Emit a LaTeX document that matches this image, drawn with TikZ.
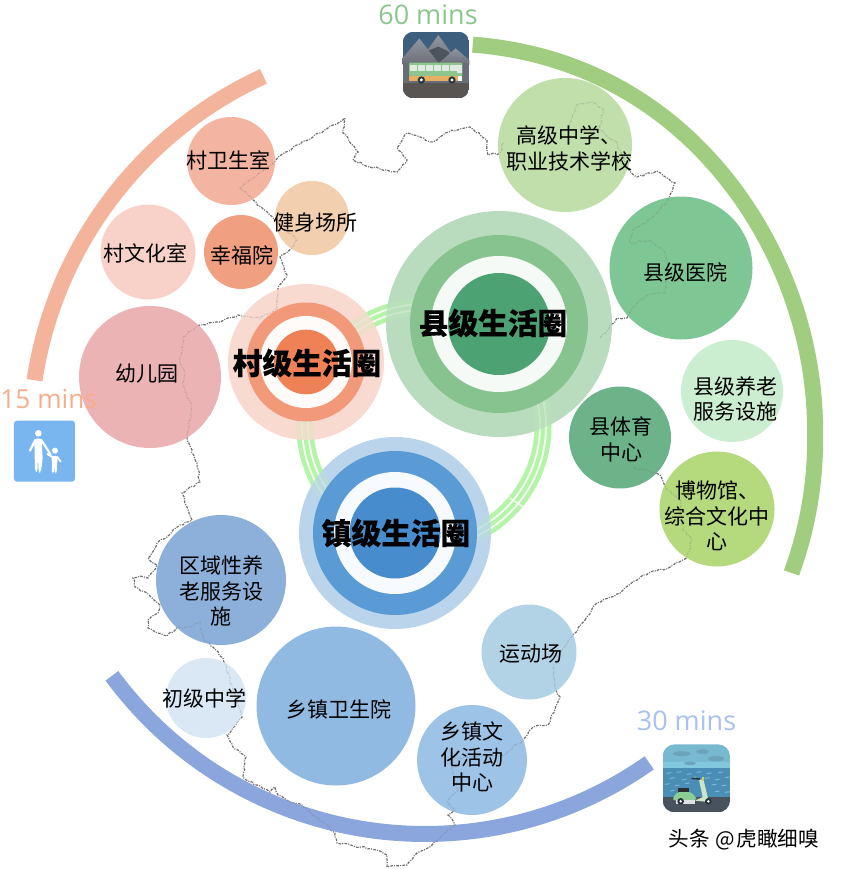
\documentclass[tikz,border=0pt]{standalone}
\usepackage{fontspec}
\setmainfont{Noto Sans CJK SC}
\newfontfamily\headf{Noto Sans CJK SC}[BoldFeatures={FakeBold=0.35}]
\newfontfamily\latinf{Open Sans}
\usetikzlibrary{decorations.pathmorphing}
\definecolor{cOA}{HTML}{F4B49C}\definecolor{cGA}{HTML}{A0CD80}\definecolor{cBA}{HTML}{8AA6DC}
\definecolor{ringg}{HTML}{B5F3A8}
\definecolor{skyb}{HTML}{3E5E7E}\definecolor{mtl}{HTML}{9096A0}\definecolor{mtd}{HTML}{4E545C}\definecolor{mtm}{HTML}{696E76}
\definecolor{grnd}{HTML}{585452}\definecolor{busg}{HTML}{8EC58F}\definecolor{buso}{HTML}{E8AE62}\definecolor{busw}{HTML}{E1EBE1}\definecolor{tyre}{HTML}{28343E}
\definecolor{skyc}{HTML}{77B9CE}\definecolor{skyd}{HTML}{82C8DC}\definecolor{sea}{HTML}{4A8EB6}\definecolor{road}{HTML}{47525C}\definecolor{cloud}{HTML}{6BA3B8}\definecolor{wave}{HTML}{7DB6D6}
\definecolor{scg}{HTML}{8ECC96}\definecolor{scc}{HTML}{CDE4C8}\definecolor{scy}{HTML}{CDCD64}\definecolor{scs}{HTML}{DCE1E1}\definecolor{walk}{HTML}{79B5EF}
\definecolor{mapc}{HTML}{6C6C6C}
\tikzset{
 disc/.style={circle,draw=none,inner sep=0pt,minimum size=2*#1 pt},
 lab/.style={inner sep=0pt,align=center,font=\fontsize{21}{25.4}\selectfont,text=black},
 head/.style={inner sep=0pt,align=center,font=\headf\fontsize{29.7}{30}\selectfont\bfseries,text=black},
 mins/.style={inner sep=0pt,font=\latinf\fontsize{27}{30}\selectfont},
 arcband/.style={line width=16pt,line cap=butt,line join=round},
 mapline/.style={line width=1.1pt,color=mapc,dash pattern=on 2.6pt off 1.2pt on 1pt off 1.3pt,
   decorate,decoration={random steps,segment length=3.5pt,amplitude=1.1pt}},
}
\newcommand\drawmap[1]{%
 \pgfmathsetseed{7}%
 \draw[mapline,#1] (585,620)--(597,603)--(620,593)--(643,575)--(670,567)--(687,558)--(692,540)--(683,530)--(680,500)--(667,490)--(660,475)--(633,467);
 \draw[mapline,#1] (600,338)--(617,318)--(627,318)--(633,307)--(647,295)--(665,293)--(668,263)--(663,250)--(650,240)--(630,243)--(633,230)--(653,217)--(668,200)--(675,183)--(657,171)--(637,177)--(627,167)--(617,143)--(600,130)--(603,108)--(590,102)--(577,105)--(572,117)--(568,130);
 \draw[mapline,#1] (503,143)--(500,153)--(488,155)--(487,140)--(470,127)--(445,133)--(433,142)--(420,137)--(407,133)--(397,148)--(407,160)--(397,172)--(370,167)--(353,160)--(358,152)--(343,133)--(345,118)--(333,125)--(313,137)--(297,145)--(278,157)--(273,163)--(240,188)--(253,200)--(273,218)--(297,240)--(293,247)--(280,257)--(287,275)--(278,287)--(277,308)--(260,318)--(238,315)--(220,322)--(200,325)--(183,337)--(180,363)--(185,373)--(182,383)--(192,407)--(187,440)--(197,463)--(200,482)--(182,493)--(187,507)--(192,520)--(180,525)--(173,530)--(167,537)--(157,543)--(148,558)--(157,565)--(148,578)--(140,576)--(133,578)--(135,587)--(147,593)--(160,605)--(158,613)--(148,620)--(148,628)--(157,633)--(167,636)--(177,627)--(190,627)--(200,622)--(203,638)--(213,647)--(223,658)--(242,717)--(227,735)--(233,747)--(246,757)--(243,777)--(257,785)--(270,792)--(275,787)--(278,795)--(293,803)--(302,805)--(335,833)--(337,843)--(360,847)--(377,850)--(387,855)--(387,867)--(407,865)--(417,853)--(432,845)--(455,825)--(448,815)--(455,810)--(447,802)--(458,790)--(452,770)--(453,758)--(503,755)--(523,740)--(533,727)--(548,725)--(560,697)--(555,687)--(553,667)--(562,650)--(585,620);
}
\newcommand\drawring[1]{%
 \begin{scope}[#1]
 \draw[line width=17pt,color=ringg] (rc) circle[radius=119];
 \draw[line width=1.8pt,color=white] (rc) circle[radius=116];
 \draw[line width=1.8pt,color=white] (rc) circle[radius=122];
 \draw[line width=1.4pt,color=white] (tka) -- (tkb);
 \end{scope}
}
\begin{document}
\begin{tikzpicture}[x=1pt,y=-1pt]
\useasboundingbox (0,0) rectangle (840,869);
\coordinate (rc) at (424,426);
\coordinate (tka) at (510,498);
\coordinate (tkb) at (523,507);
\drawmap{}
\drawring{}
% outer time arcs
\draw[arcband,cOA] plot[domain=-171.4:-114.6,samples=80] ({430+400*cos(\x)},{440+400*sin(\x)});
\draw[arcband,cGA] plot[domain=-83.7:21.3,samples=100] ({430+(385+8*exp(-((\x+62)/30)^2)+0.14*max(\x,0))*cos(\x)},{432+(385+8*exp(-((\x+62)/30)^2)+0.14*max(\x,0))*sin(\x)});
\draw[arcband,cBA] plot[domain=54.8:143.6,samples=90] ({425+389*cos(\x)},{445+389*sin(\x)});
% facility discs
\node[disc=44,fill={rgb,255:red,244;green,180;blue,162}] (wei) at (231,161) {};
\node[disc=37,fill={rgb,255:red,242;green,207;blue,174}] (jian) at (312,218) {};
\node[disc=47.5,fill={rgb,255:red,248;green,210;blue,201}] (wen) at (148,252) {};
\node[disc=37,fill={rgb,255:red,240;green,159;blue,128}] (xing) at (241,252) {};
\node[disc=71,fill={rgb,255:red,236;green,179;blue,181}] (you) at (150,377) {};
\node[disc=67,fill={rgb,255:red,193;green,223;blue,171}] (gao) at (565,145) {};
\node[disc=71.5,fill={rgb,255:red,127;green,198;blue,149}] (xyy) at (681,268) {};
\node[disc=51,fill={rgb,255:red,204;green,238;blue,208}] (xyl) at (732,391) {};
\node[disc=51,fill={rgb,255:red,108;green,179;blue,138}] (xty) at (620,437.5) {};
\node[disc=57.5,fill={rgb,255:red,181;green,217;blue,125}] (bwg) at (717,509) {};
\node[disc=47.5,fill={rgb,255:red,177;green,211;blue,229}] (ydc) at (529,652) {};
\node[disc=55,fill={rgb,255:red,157;green,195;blue,230}] (zwh) at (472,760) {};
\node[disc=79.5,fill={rgb,255:red,144;green,186;blue,226}] (zws) at (336,706) {};
\node[disc=40,fill={rgb,255:red,218;green,232;blue,246}] (cz) at (206,698) {};
\node[disc=65,fill={rgb,255:red,141;green,176;blue,218}] (qy) at (221,580) {};
% outer rings of the life circles
\node[disc=78,fill={rgb,255:red,249;green,218;blue,208}] (c1a) at (306,362) {};
\node[disc=113,fill={rgb,255:red,185;green,220;blue,191}] (c2a) at (499,324) {};
\node[disc=96,fill={rgb,255:red,186;green,212;blue,236}] (c3a) at (395,533) {};
% show-through of map and ring
\drawring{opacity=0.22}
\drawmap{opacity=0.28}
% inner rings
\node[disc=59.5,fill={rgb,255:red,242;green,153;blue,122}] (c1b) at (306,362) {};
\node[disc=46,fill={rgb,255:red,255;green,251;blue,249}] (c1c) at (306,362) {};
\node[disc=32.3,fill={rgb,255:red,238;green,129;blue,85}] (c1d) at (306,362) {};
\node[disc=89,fill={rgb,255:red,134;green,195;blue,142}] (c2b) at (499,324) {};
\node[disc=68,fill={rgb,255:red,245;green,250;blue,247}] (c2c) at (499,324) {};
\node[disc=51,fill={rgb,255:red,76;green,162;blue,114}] (c2d) at (499,324) {};
\node[disc=82,fill={rgb,255:red,90;green,155;blue,213}] (c3b) at (395,533) {};
\node[disc=61,fill={rgb,255:red,247;green,250;blue,254}] (c3c) at (395,533) {};
\node[disc=45.5,fill={rgb,255:red,71;green,140;blue,204}] (c3d) at (395,533) {};
% labels
\node[lab] (twei) at (228,160) {村卫生室};
\node[lab] (tjian) at (315,223) {健身场所};
\node[lab] (twen) at (145,253) {村文化室};
\node[lab] (txing) at (242,255) {幸福院};
\node[lab] (tyou) at (147,374) {幼儿园};
\node[lab] (tgao) at (569,148.5) {高级中学、\\职业技术学校};
\node[lab] (txyy) at (685,272) {县级医院};
\node[lab] (txyl) at (735,399) {县级养老\\服务设施};
\node[lab] (txty) at (621,439.5) {县体育\\中心};
\node[lab] (tbwg) at (717,516) {博物馆、\\综合文化中\\心};
\node[lab] (tydc) at (531,654) {运动场};
\node[lab] (tzwh) at (472,757) {乡镇文\\化活动\\中心};
\node[lab] (tzws) at (339,709) {乡镇卫生院};
\node[lab] (tcz) at (204,698) {初级中学};
\node[lab] (tqy) at (221,591) {区域性养\\老服务设\\施};
\node[head] (h1) at (307,363) {村级生活圈};
\node[head] (h2) at (493,323) {县级生活圈};
\node[head] (h3) at (396,533) {镇级生活圈};
\node[mins,text={rgb,255:red,141;green,198;blue,140}] (m60) at (428,15) {60 mins};
\node[mins,text={rgb,255:red,169;green,193;blue,236}] (m30) at (686.5,721) {30 mins};
\node[mins,anchor=west,font=\latinf\fontsize{26.2}{30}\selectfont,text={rgb,255:red,247;green,172;blue,140}] (m15) at (0.3,399.5) {15 mins};
\node[inner sep=0pt,font=\fontsize{20.6}{22}\selectfont] (wm) at (744,840) {头条\hspace{5pt}@\hspace{2pt}虎瞰细嗅};
% bus icon
\begin{scope}[shift={(390,20)},x=0.3333pt,y=-0.3333pt]
 \begin{scope}
 \clip[rounded corners=11pt] (38,35) rectangle (238,235);
 \fill[skyb] (38,35) rectangle (238,235);
 \shade[top color=mtl,bottom color=mtm] (80,135)--(145,45)--(210,135)--cycle;
 \fill[mtd] (95,135)--(115,92)--(145,80)--(175,95)--(195,135)--cycle;
 \shade[top color=mtl,bottom color=mtm] (20,135)--(88,55)--(150,135)--cycle;
 \shade[top color=mtl,bottom color=mtm] (140,135)--(197,85)--(255,135)--cycle;
 \fill[mtm] (38,130) rectangle (238,195);
 \fill[grnd] (38,190) rectangle (238,235);
 \fill[busg,rounded corners=1pt] (57,128) rectangle (217,168);
 \fill[buso] (57,168) rectangle (205,182);
 \fill[white] (205,168) rectangle (217,182);
 \foreach \k in {60,84,108,132,156,180}{\fill[busw] (\k,135) rectangle (\k+20,152);}
 \fill[busw] (202,135) rectangle (215,158);
 \foreach \k in {94,186}{\fill[tyre] (\k,180) circle[radius=11];\fill[white] (\k,180) circle[radius=5];}
 \end{scope}
\end{scope}
% scooter icon
\begin{scope}[shift={(650,735)},x=0.3333pt,y=-0.3333pt]
 \begin{scope}
 \clip[rounded corners=12pt] (38,28) rectangle (240,232);
 \fill[skyc] (38,28) rectangle (240,232);
 \fill[skyd] (38,80) rectangle (240,100);
 \fill[sea] (38,100) rectangle (240,190);
 \fill[road] (38,185) rectangle (240,232);
 \fill[cloud] (95,56) ellipse[x radius=27,y radius=7];
 \fill[cloud] (158,50) ellipse[x radius=19,y radius=7];
 \fill[cloud] (120,85) ellipse[x radius=18,y radius=5];
 \fill[cloud] (198,71) ellipse[x radius=24,y radius=8];
 \foreach \a/\b in {50/115,80/112,110/118,140/112,170/116,205/113,60/130,95/135,125/128,165/130,195/135,225/128,45/148,75/152,105/146,185/150,215/152,60/168,90/170,195/170,225/172}
   {\draw[wave,line width=1pt] (\a,\b)--(\a+14,\b-2);}
 \fill[scg,rounded corners=2pt] (68,196)--(74,178)--(95,168)--(125,172)--(142,194)--cycle;
 \fill[black!82] (85,159) rectangle (118,170);
 \fill[scc] (135,197)--(158,186)--(147,135)--(160,132)--(174,190)--(165,200)--cycle;
 \draw[tyre,line width=1.6pt] (124,130)--(150,132);
 \fill[scy] (155,127) rectangle (163,137);
 \fill[scs] (78,195) rectangle (135,207);
 \foreach \k in {92,175}{\fill[tyre] (\k,199) circle[radius=10];\fill[white] (\k,199) circle[radius=4];}
 \end{scope}
\end{scope}
% walking icon
\begin{scope}[shift={(0,380)},x=0.3333pt,y=-0.3333pt]
 \fill[walk,rounded corners=3pt] (42,122) rectangle (225,305);
 \fill[white] (115,160) circle[radius=10];
 \fill[white] (165,212) circle[radius=9];
 \fill[white,rounded corners=2pt] (103,176)--(125,176)--(128,240)--(122,278)--(116,278)--(114,232)--(112,276)--(105,274)--cycle;
 \draw[white,line width=2.2pt,line cap=round,line join=round] (106,180)--(90,212);
 \draw[white,line width=2.2pt,line cap=round,line join=round] (124,180)--(152,224);
 \fill[white,rounded corners=1.5pt] (155,228)--(174,228)--(171,252)--(170,280)--(165,280)--(164,258)--(162,280)--(156,280)--cycle;
 \draw[white,line width=1.8pt,line cap=round] (157,231)--(142,222);
 \draw[white,line width=1.8pt,line cap=round] (172,231)--(182,245);
\end{scope}
\end{tikzpicture}
\end{document}
